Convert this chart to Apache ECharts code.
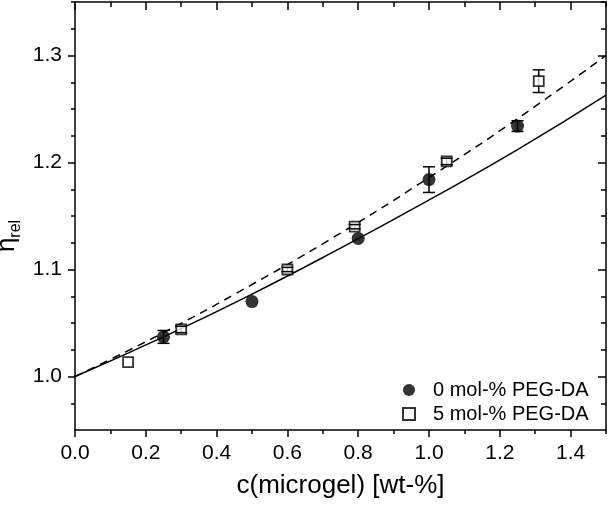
<!DOCTYPE html>
<html>
<head>
<meta charset="utf-8">
<script src="https://cdn.jsdelivr.net/npm/echarts@6/dist/echarts.min.js"></script>
<style>
html,body{margin:0;padding:0;background:#fff;}
#chart{width:609px;height:508px;}
</style>
</head>
<body>
<div id="chart"></div>
<script>
// ---- data ----
const series0Name = '0 mol-% PEG-DA';
const series5Name = '5 mol-% PEG-DA';
const xCircle   = [0.25, 0.50, 0.80, 1.00, 1.25];
const yCircle   = [1.037, 1.070, 1.129, 1.184, 1.234];
const errCircle = [0.006, 0.0, 0.0, 0.012, 0.005];
const xSquare   = [0.15, 0.30, 0.60, 0.79, 1.05, 1.31];
const ySquare   = [1.0135, 1.044, 1.100, 1.140, 1.201, 1.276];
const errSquare = [0.0, 0.003, 0.002, 0.002, 0.003, 0.0106];
const fitX  = [0, 0.25, 0.5, 0.75, 1.0, 1.25, 1.5];
const fit0  = [1.000, 1.037, 1.077, 1.120, 1.165, 1.212, 1.263];
const fit5  = [1.000, 1.041, 1.086, 1.134, 1.186, 1.241, 1.300];
const xMajorTicks = [0, 0.2, 0.4, 0.6, 0.8, 1.0, 1.2, 1.4];
const xMinorTicks = [0.1, 0.3, 0.5, 0.7, 0.9, 1.1, 1.3, 1.5];
const yMajorTicks = [1.0, 1.1, 1.2, 1.3];
const yMinorTicks = [0.975, 1.025, 1.05, 1.075, 1.125, 1.15, 1.175, 1.225, 1.25, 1.275, 1.325, 1.35];
const xTitle = 'c(microgel) [wt-%]';

const FONT = 'Arial, "Liberation Sans", sans-serif';
const X_MIN = 0, X_MAX = 1.5, Y_MIN = 0.95, Y_MAX = 1.35;

function zip(a, b, c) { return a.map((v, i) => c ? [v, b[i], c[i]] : [v, b[i]]); }

const lineCol = '#000';
function xAx(pos, ticks, len, inside, showLine, labels) {
  return {
    type: 'value', position: pos, min: X_MIN, max: X_MAX,
    splitLine: {show: false},
    axisLine: {show: showLine, onZero: false, lineStyle: {color: lineCol, width: 1.5}},
    axisTick: {show: true, inside: inside, length: len, customValues: ticks, lineStyle: {color: lineCol, width: 1.5}},
    axisLabel: labels ? {show: true, customValues: ticks, margin: 13, fontSize: 21, fontFamily: FONT, color: '#000',
      formatter: v => v.toFixed(1)} : {show: false},
    name: labels ? xTitle : '', nameLocation: 'middle', nameGap: 43,
    nameTextStyle: {fontSize: 26, fontFamily: FONT, color: '#000'}
  };
}
function yAx(pos, ticks, len, inside, showLine, labels) {
  return {
    type: 'value', position: pos, min: Y_MIN, max: Y_MAX,
    splitLine: {show: false},
    axisLine: {show: showLine, onZero: false, lineStyle: {color: lineCol, width: 1.5}},
    axisTick: {show: true, inside: inside, length: len, customValues: ticks, lineStyle: {color: lineCol, width: 1.5}},
    axisLabel: labels ? {show: true, customValues: ticks, margin: 13, fontSize: 21, fontFamily: FONT, color: '#000',
      formatter: v => v.toFixed(1)} : {show: false}
  };
}

function errStem(params, api) {
  const x = api.value(0), y = api.value(1), e = api.value(2);
  if (!e) return null;
  const p1 = api.coord([x, y + e]), p2 = api.coord([x, y - e]);
  return {type: 'line', shape: {x1: p1[0], y1: p1[1], x2: p2[0], y2: p2[1]},
    style: {stroke: '#000', lineWidth: 1.5}};
}
function errCaps(params, api) {
  const x = api.value(0), y = api.value(1), e = api.value(2);
  if (!e) return null;
  const p1 = api.coord([x, y + e]), p2 = api.coord([x, y - e]);
  const w = 6;
  return {type: 'group', children: [
    {type: 'line', shape: {x1: p1[0] - w, y1: p1[1], x2: p1[0] + w, y2: p1[1]}, style: {stroke: '#000', lineWidth: 1.5}},
    {type: 'line', shape: {x1: p2[0] - w, y1: p2[1], x2: p2[0] + w, y2: p2[1]}, style: {stroke: '#000', lineWidth: 1.5}}
  ]};
}

const chart = echarts.init(document.getElementById('chart'), null, {renderer: 'canvas'});
chart.setOption({
  animation: false,
  backgroundColor: '#fff',
  grid: {left: 75, right: 3, top: 2, bottom: 78, containLabel: false},
  xAxis: [
    xAx('bottom', xMajorTicks, 7, false, true, true),
    xAx('bottom', xMinorTicks, 4, false, false, false),
    xAx('top', xMajorTicks, 8, true, true, false),
    xAx('top', xMinorTicks, 5, true, false, false)
  ],
  yAxis: [
    yAx('left', yMajorTicks, 7, false, true, true),
    yAx('left', yMinorTicks, 4, false, false, false),
    yAx('right', yMajorTicks, 8, true, true, false),
    yAx('right', yMinorTicks, 5, true, false, false)
  ],
  legend: {
    orient: 'vertical', left: 397, top: 375, itemGap: 4,
    itemWidth: 12, itemHeight: 12,
    textStyle: {fontSize: 20, fontFamily: FONT, color: '#000', padding: [0, 0, 0, 13]},
    data: [{name: series0Name, icon: 'circle'}, {name: series5Name, icon: 'rect'}]
  },
  graphic: [{
    type: 'text', x: 9, y: 236, rotation: Math.PI / 2,
    style: {
      text: '{e|η}{s|rel}', align: 'center', verticalAlign: 'middle',
      rich: {
        e: {fontSize: 26, fontFamily: FONT, fill: '#000', lineHeight: 30, verticalAlign: 'top'},
        s: {fontSize: 16, fontFamily: FONT, fill: '#000', lineHeight: 30, verticalAlign: 'bottom'}
      }
    }
  }],
  series: [
    {type: 'line', name: 'fit0', data: zip(fitX, fit0), smooth: true, showSymbol: false, symbol: 'none',
      lineStyle: {color: '#000', width: 1.5}, z: 2, silent: true},
    {type: 'line', name: 'fit5', data: zip(fitX, fit5), smooth: true, showSymbol: false, symbol: 'none',
      lineStyle: {color: '#000', width: 1.5, type: [8, 6]}, z: 2, silent: true},
    {type: 'custom', name: 'stem0', renderItem: errStem, data: zip(xCircle, yCircle, errCircle), z: 3, silent: true},
    {type: 'custom', name: 'stem5', renderItem: errStem, data: zip(xSquare, ySquare, errSquare), z: 3, silent: true},
    {type: 'scatter', name: series0Name, data: zip(xCircle, yCircle), symbol: 'circle', symbolSize: 13,
      itemStyle: {color: '#000'}, z: 4},
    {type: 'scatter', name: series5Name, data: zip(xSquare, ySquare), symbol: 'rect', symbolSize: 10,
      itemStyle: {color: '#fff', borderColor: '#000', borderWidth: 1.8}, z: 4},
    {type: 'custom', name: 'caps0', renderItem: errCaps, data: zip(xCircle, yCircle, errCircle), z: 5, silent: true},
    {type: 'custom', name: 'caps5', renderItem: errCaps, data: zip(xSquare, ySquare, errSquare), z: 5, silent: true}
  ]
});
</script>
</body>
</html>
